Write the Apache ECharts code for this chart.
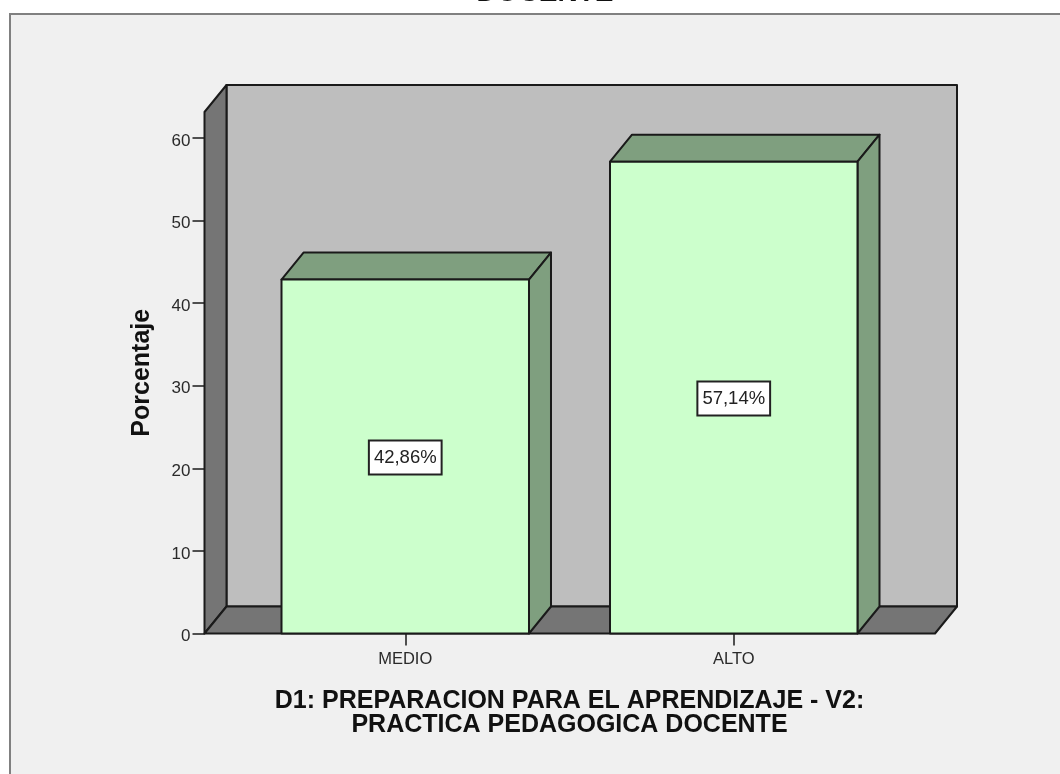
<!DOCTYPE html>
<html>
<head>
<meta charset="utf-8">
<style>html,body{margin:0;padding:0;background:#fff;overflow:hidden}#c{width:1060px;height:774px}</style>
<script src="https://cdn.jsdelivr.net/npm/echarts@6/dist/echarts.min.js"></script>
</head>
<body>
<div id="c"></div>
<script>
var categories = ['MEDIO', 'ALTO'];
var percentages = [42.86, 57.14];
var percentLabels = ['42,86%', '57,14%'];
var yTickValues = [0, 10, 20, 30, 40, 50, 60];
var yAxisMax = 63.15;
var titleText = 'DOCENTE';
var xAxisTitle = 'D1: PREPARACION PARA EL APRENDIZAJE - V2:\nPRACTICA PEDAGOGICA DOCENTE';
var yAxisTitle = 'Porcentaje';

var FONT = '"Liberation Sans", Arial, sans-serif';
var DX = 22, DY = 27, AXIS_SHIFT = 36.5, RIGHT_SHIFT = 37;
var LINE = '#1a1a1a', LW = 2;

function poly(pts, fill) {
  return { type: 'polygon', shape: { points: pts }, style: { fill: fill, stroke: LINE, lineWidth: LW, lineJoin: 'round' } };
}

var chart = echarts.init(document.getElementById('c'), null, { renderer: 'canvas' });
chart.setOption({
  animation: false,
  backgroundColor: '#ffffff',
  title: {
    text: titleText, left: 540, top: -26, textAlign: 'center',
    textStyle: { fontFamily: FONT, fontSize: 28, fontWeight: 'bold', color: '#111' }
  },
  graphic: [{
    type: 'rect', z: -10, silent: true,
    shape: { x: 10, y: 14, width: 1070, height: 780 },
    style: { fill: '#f0f0f0', stroke: '#808080', lineWidth: 2 }
  }],
  grid: { left: 241, top: 112, width: 657, height: 521.5 },
  xAxis: {
    type: 'category', data: categories,
    axisLine: { show: false },
    axisTick: { show: true, alignWithLabel: true, length: 12, lineStyle: { color: LINE, width: 1.5 } },
    axisLabel: { margin: 17, fontFamily: FONT, fontSize: 16.5, color: '#2a2a2a' },
    name: xAxisTitle, nameLocation: 'middle', nameGap: 56,
    nameTextStyle: { fontFamily: FONT, fontSize: 25, fontWeight: 'bold', color: '#111', lineHeight: 24 }
  },
  yAxis: {
    type: 'value', min: 0, max: yAxisMax, offset: AXIS_SHIFT,
    splitLine: { show: false },
    axisLine: { show: false },
    axisTick: { show: true, length: 12, customValues: yTickValues, lineStyle: { color: LINE, width: 1.5 } },
    axisLabel: { margin: 14, fontFamily: FONT, fontSize: 17, color: '#2a2a2a', customValues: yTickValues, verticalAlign: 'top', lineHeight: 6 },
    name: yAxisTitle, nameLocation: 'middle', nameGap: 50, nameRotate: 90,
    nameTextStyle: { fontFamily: FONT, fontSize: 25, fontWeight: 'bold', color: '#111' }
  },
  series: [
    {
      type: 'custom', z: 1, silent: true,
      data: [0],
      renderItem: function (params, api) {
        var g = params.coordSys;
        var l = g.x - AXIS_SHIFT, r = g.x + g.width + RIGHT_SHIFT, t = g.y, b = g.y + g.height;
        return { type: 'group', children: [
          poly([[l + DX, b - DY], [r + DX, b - DY], [r + DX, t - DY], [l + DX, t - DY]], '#bebebe'),
          poly([[l, b], [l + DX, b - DY], [l + DX, t - DY], [l, t]], '#757575'),
          poly([[l, b], [r, b], [r + DX, b - DY], [l + DX, b - DY]], '#757575')
        ] };
      }
    },
    {
      type: 'custom', z: 2, silent: true,
      data: percentages.map(function (v, i) { return [i, v]; }),
      encode: { x: 0, y: 1 },
      renderItem: function (params, api) {
        var p = api.coord([api.value(0), api.value(1)]);
        var base = api.coord([api.value(0), 0]);
        var w = api.size([1, 0])[0] * 0.7534;
        var l = p[0] - w / 2, r = p[0] + w / 2, t = p[1], b = base[1];
        return { type: 'group', children: [
          poly([[l, t], [r, t], [r + DX, t - DY], [l + DX, t - DY]], '#7f9f7f'),
          poly([[r, b], [r + DX, b - DY], [r + DX, t - DY], [r, t]], '#7f9f7f'),
          poly([[l, b], [r, b], [r, t], [l, t]], '#ccffcc'),
          {
            type: 'text', x: p[0], y: (t + b) / 2 + 1,
            style: {
              text: percentLabels[params.dataIndex], align: 'center', verticalAlign: 'middle',
              font: '18.5px ' + FONT, fill: '#222',
              backgroundColor: '#ffffff', borderColor: '#222', borderWidth: 2,
              padding: [7, 4, 6, 4]
            }
          }
        ] };
      }
    }
  ]
});
</script>
</body>
</html>
